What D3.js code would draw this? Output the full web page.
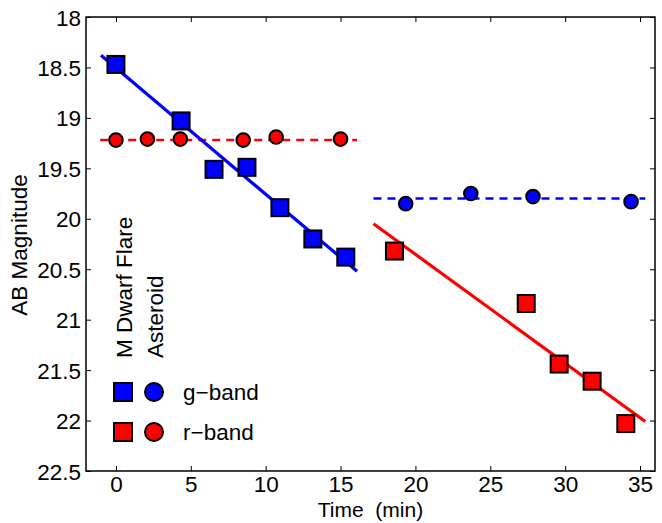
<!DOCTYPE html>
<html><head><meta charset="utf-8">
<script src="https://cdn.jsdelivr.net/npm/d3@7"></script>
<style>body{margin:0;background:#fff}svg{display:block}text{font-family:"Liberation Sans",Arial,sans-serif;fill:#000}</style>
</head><body><div id="c"></div>
<script>
const xTicks=[0,5,10,15,20,25,30,35];
const yTicks=[18,18.5,19,19.5,20,20.5,21,21.5,22,22.5];
const yTickLabels=["18","18.5","19","19.5","20","20.5","21","21.5","22","22.5"];
// M dwarf flare, g-band (squares)
const flareG_t=[0,4.35,6.55,8.75,10.95,13.15,15.35];
const flareG_m=[18.47,19.03,19.51,19.49,19.89,20.20,20.38];
const flareG_fit_t=[-1,16.1];
const flareG_fit_m=[18.38,20.52];
// M dwarf flare, r-band (squares)
const flareR_t=[18.6,27.4,29.6,31.8,34.05];
const flareR_m=[20.32,20.84,21.44,21.61,22.03];
const flareR_fit_t=[17.2,35.35];
const flareR_fit_m=[20.05,22.01];
// Asteroid, r-band (circles)
const astR_t=[0,2.1,4.3,8.5,10.7,15.0];
const astR_m=[19.22,19.21,19.21,19.22,19.19,19.21];
const astR_fit_t=[-1.05,16.1];
const astR_fit_m=[19.22,19.22];
// Asteroid, g-band (circles)
const astG_t=[19.35,23.7,27.85,34.4];
const astG_m=[19.85,19.75,19.78,19.83];
const astG_fit_t=[17.2,35.35];
const astG_fit_m=[19.80,19.80];

const W=662,H=523,L=86,R=655,T=17,B=471;
const svg=d3.select("#c").append("svg").attr("width",W).attr("height",H);
const x=d3.scaleLinear().domain([-2,36]).range([L,R]);
const y=d3.scaleLinear().domain([18,22.5]).range([T,B]);
const blue="#0000ff",red="#ff0000";

const fs=22.5;
// axes
const xa=svg.append("g").attr("transform",`translate(0,${B})`).call(d3.axisBottom(x).tickValues(xTicks).tickSize(-5).tickPadding(5).tickFormat(d3.format("d")));
const xt=svg.append("g").attr("transform",`translate(0,${T})`).call(d3.axisTop(x).tickValues(xTicks).tickSize(-5).tickFormat(""));
const ya=svg.append("g").attr("transform",`translate(${L},0)`).call(d3.axisLeft(y).tickValues(yTicks).tickSize(-5).tickPadding(5).tickFormat((d,i)=>yTickLabels[i]));
const yr=svg.append("g").attr("transform",`translate(${R},0)`).call(d3.axisRight(y).tickValues(yTicks).tickSize(-5).tickFormat(""));
[xa,xt,ya,yr].forEach(g=>{g.select(".domain").remove();g.selectAll("line").attr("stroke","#000").attr("stroke-width",1);g.selectAll("text").attr("font-size",fs).attr("font-family","Liberation Sans, Arial, sans-serif").attr("fill","#000");});
ya.selectAll("text").attr("dy","0.36em");
svg.append("rect").attr("x",L).attr("y",T).attr("width",R-L).attr("height",B-T).attr("fill","none").attr("stroke","#000").attr("stroke-width",1.5);

svg.append("text").attr("x",x(17)).attr("y",517).attr("text-anchor","middle").attr("font-size",21).attr("xml:space","preserve").text("Time  (min)");
svg.append("text").attr("transform",`translate(27,${245}) rotate(-90)`).attr("text-anchor","middle").attr("font-size",fs).text("AB Magnitude");

const line=d3.line().x(d=>x(d[0])).y(d=>y(d[1]));
function fit(ts,ms,color,dash){
  svg.append("path").datum(ts.map((t,i)=>[t,ms[i]])).attr("d",line).attr("fill","none").attr("stroke",color).attr("stroke-width",dash?2.5:3.2).attr("stroke-dasharray",dash?"8,6":null);
}
fit(astR_fit_t,astR_fit_m,red,true);
fit(astG_fit_t,astG_fit_m,blue,true);
fit(flareG_fit_t,flareG_fit_m,blue,false);
fit(flareR_fit_t,flareR_fit_m,red,false);

const S=17;
function squares(ts,ms,color){
  svg.append("g").selectAll("rect").data(ts.map((t,i)=>[t,ms[i]])).join("rect")
    .attr("x",d=>x(d[0])-S/2).attr("y",d=>y(d[1])-S/2).attr("width",S).attr("height",S)
    .attr("fill",color).attr("stroke","#000").attr("stroke-width",2);
}
function circles(ts,ms,color){
  svg.append("g").selectAll("circle").data(ts.map((t,i)=>[t,ms[i]])).join("circle")
    .attr("cx",d=>x(d[0])).attr("cy",d=>y(d[1])).attr("r",6.8)
    .attr("fill",color).attr("stroke","#000").attr("stroke-width",2);
}
circles(astR_t,astR_m,red);
circles(astG_t,astG_m,blue);
squares(flareG_t,flareG_m,blue);
squares(flareR_t,flareR_m,red);

// legend
svg.append("text").attr("transform","translate(132,358) rotate(-90)").attr("font-size",fs).text("M Dwarf Flare");
svg.append("text").attr("transform","translate(163,358) rotate(-90)").attr("font-size",fs).text("Asteroid");
const LS=18;
const leg=[["g\u2212band",blue,392],["r\u2212band",red,432]];
leg.forEach(([lab,c,yy])=>{
  svg.append("rect").attr("x",123-LS/2).attr("y",yy-LS/2).attr("width",LS).attr("height",LS).attr("fill",c).attr("stroke","#000").attr("stroke-width",2);
  svg.append("circle").attr("cx",154).attr("cy",yy).attr("r",9).attr("fill",c).attr("stroke","#000").attr("stroke-width",2);
  svg.append("text").attr("x",183).attr("y",yy).attr("dy","0.35em").attr("font-size",fs).text(lab);
});
</script></body></html>
